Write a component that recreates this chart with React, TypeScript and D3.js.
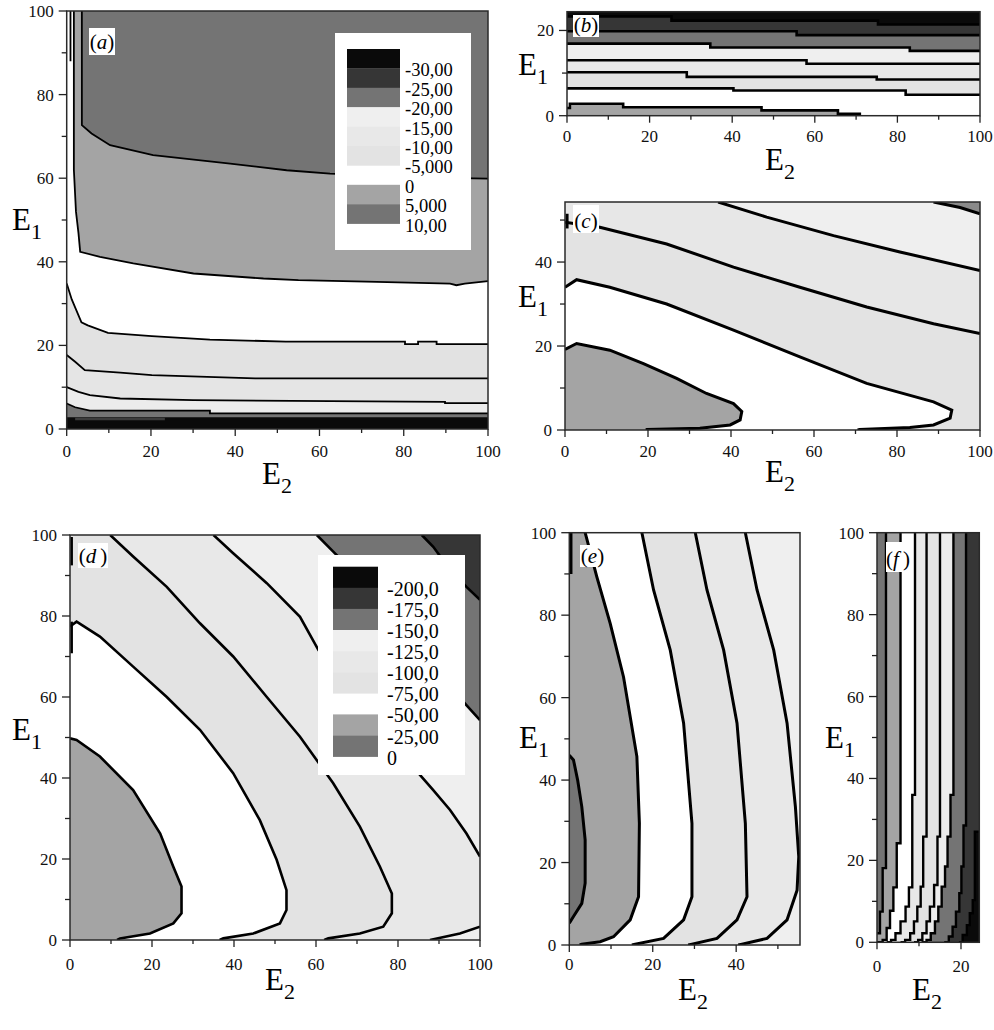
import React from 'react';
import * as d3 from 'd3';

type Pt = [number, number]; // [E2, E1]

// ---------------- ticks & labels ----------------
const ticks0to100 = [0, 10, 20, 30, 40, 50, 60, 70, 80, 90, 100];
const labels0to100 = [0, 20, 40, 60, 80, 100];
const bE1Ticks = [0, 10, 20];
const bE1Labels = [0, 20];
const cE1Ticks = [0, 10, 20, 30, 40, 50];
const cE1Labels = [0, 20, 40];
const eE2Ticks = [0, 10, 20, 30, 40, 50];
const eE2Labels = [0, 20, 40];
const fE2Ticks = [0, 10, 20];
const fE2Labels = [0, 20];

const aLegendLabels = ['-30,00', '-25,00', '-20,00', '-15,00', '-10,00', '-5,000', '0', '5,000', '10,00'];
const dLegendLabels = ['-200,0', '-175,0', '-150,0', '-125,0', '-100,0', '-75,00', '-50,00', '-25,00', '0'];

// ---------------- panel (a) contour boundaries ----------------
const aC60: Pt[] = [[3.6, 100], [3.6, 72.7], [5.9, 70.7], [10.3, 67.9], [20.5, 65.5], [38.8, 63.5], [52.2, 61.9], [62.5, 61.1], [80, 60.4], [90, 60.1], [100, 59.9]];
const aC40: Pt[] = [[1.7, 100], [1.7, 62], [2.2, 52], [2.8, 46.8], [3.2, 42.4], [7.9, 41.2], [15.8, 39.6], [30.1, 37.2], [46.7, 36], [55, 35.6], [73.6, 35.2], [91, 34.8], [92.5, 34.4], [94.5, 34.8], [100, 35.4]];
const aC20: Pt[] = [[0, 34.8], [1.2, 31], [3.5, 25.5], [5, 24.8], [9.8, 23], [20.2, 22.2], [34, 21.4], [52, 20.9], [80.3, 20.9], [80.3, 20.3], [83.4, 20.3], [83.4, 20.9], [87.8, 20.9], [87.8, 20.3], [100, 20.3]];
const aC12: Pt[] = [[0, 17.7], [2, 16.1], [4.3, 14.1], [12.7, 13.5], [20.2, 12.9], [44.7, 12.1], [100, 12.1]];
const aC7: Pt[] = [[0, 10], [2.8, 8.9], [5.5, 8.1], [12.7, 7.3], [30, 6.9], [89.8, 6.5], [89.8, 6.2], [100, 6.2]];
const aC4: Pt[] = [[0, 6.1], [2, 5.2], [5.5, 4.4], [34, 4.4], [34, 3.75], [100, 3.75]];
const aBlack: Pt[] = [[0, 2.8], [100, 2.8], [100, 0], [0, 0]];
const aDarkStrip: Pt[] = [[2, 2.7], [23.3, 2.7], [23.3, 2.1], [2, 2.1]];
const aEdge: Pt[] = [[0.9, 100], [0.9, 88]];

// ---------------- panel (b) (horizontal staircases) ----------------
const bL1: Pt[] = [[0, 23.3], [25.3, 22.3], [75.3, 21.4], [100, 21.4]];
const bL2: Pt[] = [[0, 19.8], [55.6, 18.9], [100, 18.9]];
const bL3: Pt[] = [[0, 16.9], [34.7, 16], [83, 15.2], [100, 15.2]];
const bL4: Pt[] = [[0, 13], [58, 12.2], [100, 12.2]];
const bL5: Pt[] = [[0, 10.2], [29, 9.1], [75, 8.5], [100, 8.5]];
const bL6: Pt[] = [[0, 6.4], [40.3, 5.9], [82, 4.9], [100, 4.9]];
const bL7: Pt[] = [[0, 1.8], [0.7, 2.8], [13.6, 2.0], [47.1, 1.24], [65.6, 0.47], [70.9, 0]];

// ---------------- panel (c) ----------------
const cC1: Pt[] = [[0, 19.2], [2.8, 20.6], [10.8, 19], [18.9, 15.8], [26.9, 12.3], [34.1, 8.7], [40.6, 6.3], [42.6, 4.4], [42.2, 2.4], [39.8, 1.2], [32.5, 0.4], [19.7, 0.1], [19.5, 0]];
const cC2: Pt[] = [[0, 34], [2.8, 35.8], [10.8, 34], [24.5, 30], [40.6, 23.8], [56.6, 17.4], [72.7, 11.1], [88.8, 6.7], [93.2, 4.75], [92.8, 2.8], [88.8, 1.2], [83.1, 0.6], [71, 0.1], [70.5, 0]];
const cC3: Pt[] = [[0, 49.5], [8.4, 48.3], [24.5, 44.3], [40.6, 38.8], [56.6, 34], [72.7, 29.3], [88.8, 25.3], [100, 23]];
const cC4: Pt[] = [[36.9, 54.3], [48.6, 50.7], [64.7, 46.3], [80.7, 42.4], [100, 38]];
const cC5: Pt[] = [[88.8, 54.3], [95.2, 53], [100, 51.5]];
const cEdge: Pt[] = [[0.5, 51.5], [0.5, 48]];

// ---------------- panel (d) ----------------
const dC1: Pt[] = [[0, 49.8], [1.6, 49.4], [7.3, 45.3], [15.4, 37], [22, 26.3], [25.2, 18.1], [27.2, 13.2], [27.2, 6.6], [25.2, 4.1], [19.5, 1.6], [12.2, 0.4], [11.5, 0]];
const dC2: Pt[] = [[0, 77.4], [1.6, 78.6], [7.3, 74.9], [15.4, 67.5], [23.6, 60], [31.7, 51.9], [39.8, 41.2], [46.3, 29.6], [50.4, 19.8], [52.8, 12.3], [52.8, 7.4], [51.2, 4.1], [44.7, 1.6], [37.4, 0.4], [36.5, 0]];
const dC3: Pt[] = [[9.8, 100], [15.4, 94.7], [23.6, 87.2], [31.7, 78.2], [39.8, 70], [48, 60], [56.1, 50.2], [64.2, 38.7], [70.7, 28], [75.6, 18.1], [78.5, 11.5], [78.5, 6.6], [76.4, 3.3], [70.7, 1.6], [63, 0.4], [62, 0]];
const dC4: Pt[] = [[35, 100], [39.8, 95.5], [48, 88.1], [56.1, 79.8], [60.6, 71.6], [66, 64.5], [72, 57.5], [78, 50.2], [85.4, 40.7], [88.6, 37], [92.7, 32.1], [96.7, 26.3], [100, 20.6]];
const dC4b: Pt[] = [[87.8, 0], [95.1, 1.6], [100, 3.3]];
const dC5: Pt[] = [[60.2, 100], [64.2, 95.9], [70, 90], [76, 83.5], [82, 77], [88, 70], [93, 63], [96.3, 58.4], [100, 54.3]];
const dC6: Pt[] = [[85.8, 100], [88.6, 97.1], [92.7, 91.4], [96.7, 87.2], [100, 84]];
const dEdge1: Pt[] = [[0.4, 99.5], [0.4, 92.5]];
const dEdge2: Pt[] = [[0.4, 78.6], [0.4, 70.8]];

// ---------------- panel (e) ----------------
const eL1: Pt[] = [[0, 46], [1, 44.9], [2, 40], [3, 33.5], [3.8, 25.5], [3.8, 15], [3, 10.1], [1, 6.9], [0, 5.3]];
const eL2: Pt[] = [[3.8, 100], [6.6, 89.3], [9.8, 78], [13, 65], [16.2, 45.7], [16.8, 29.5], [16.6, 11.7], [14.6, 6.1], [10.6, 2], [7.4, 0.8], [3, 0.2], [2.5, 0]];
const eL3: Pt[] = [[17.4, 100], [20.2, 86.1], [24.2, 71.5], [27.4, 53.8], [29.4, 29.5], [29.4, 11.7], [27.4, 6.1], [22.6, 1.6], [15.8, 0.2], [15, 0]];
const eL4: Pt[] = [[30.2, 100], [33, 86.1], [37, 71.5], [40.2, 53.8], [42.2, 29.5], [42.6, 11.7], [40.2, 6.1], [35.4, 1.6], [29.4, 0.2], [28.5, 0]];
const eL5: Pt[] = [[42.2, 100], [45, 86.1], [49, 71.5], [52.2, 53.8], [54.2, 33.5], [55, 21.4], [54.6, 13.3], [52.2, 6.1], [47.4, 1.6], [41.4, 0.2], [40.5, 0]];
const eEdge: Pt[] = [[0.4, 100], [0.4, 90]];

// ---------------- panel (f) (vertical staircases) ----------------
const fL1: Pt[] = [[2.14, 100], [1.35, 18.1], [0.71, 7.5], [0.05, 2.2]];
const fL2: Pt[] = [[5.6, 100], [4.7, 24.2], [3.9, 13.4], [3.1, 7.7], [2.3, 3.5], [1.35, 0.6], [0, 0]];
const fL3: Pt[] = [[9.05, 100], [8.4, 36], [7.6, 13.4], [6.8, 8.7], [5.6, 5.1], [4.4, 2.2], [3.35, 0.6], [2.3, 0]];
const fL4: Pt[] = [[11.8, 100], [11.0, 25.8], [10.4, 13.6], [9.6, 8.7], [8.8, 5.1], [7.9, 2.2], [6.7, 0.6], [5.6, 0]];
const fL5: Pt[] = [[15.0, 100], [14.4, 25.8], [13.6, 14], [12.6, 8.7], [11.8, 5.1], [10.8, 2.2], [9.8, 0.6], [8.8, 0]];
const fL6: Pt[] = [[18.2, 100], [17.5, 36], [16.8, 25.8], [16.2, 18.5], [15.4, 13.6], [14.6, 8.7], [13.8, 5.1], [12.8, 2.2], [11.8, 0.6], [10.6, 0]];
const fL7: Pt[] = [[21.2, 100], [20.6, 28.5], [20.1, 18.5], [19.6, 12], [18.8, 7.5], [18.0, 3.8], [17.1, 1.4], [16.0, 0]];
const fL8: Pt[] = [[24.4, 27], [23.3, 27], [22.8, 10.3], [22.1, 7.1], [21.4, 4.2], [20.4, 1.8], [19.5, 0]];

// ---------------- styles ----------------
const C = {
  black: '#0a0a0a', dark: '#363636', mid: '#747474', gray: '#a4a4a4', white: '#ffffff',
  l1: '#efefef', l2: '#e8e8e8', l3: '#e3e3e3',
};
const SERIF = "Liberation Serif, Times New Roman, serif";

const stairH = (p: Pt[]): Pt[] => p.flatMap((d, i) => (i === 0 ? [d] : [[d[0], p[i - 1][1]] as Pt, d]));
const stairV = (p: Pt[]): Pt[] => p.flatMap((d, i) => (i === 0 ? [d] : [[p[i - 1][0], d[1]] as Pt, d]));
const rev = (p: Pt[]): Pt[] => [...p].reverse();

interface Fill { fill: string; poly: Pt[] }
interface Spec {
  id: string;
  left: number; right: number; top: number; bottom: number;
  xEnd: number; yEnd: number;
  base: string;
  fills: Fill[];
  lines: Pt[][];
  lw: number;
  xTicks: number[]; xLabels: number[]; yTicks: number[]; yLabels: number[];
  xLabelDy: number;
  tag: { letter: string; space: boolean; x: number; y: number; w: number; h: number; base: number };
  e1: [number, number]; e2: [number, number];
}

function ELabel({ x, y, sub }: { x: number; y: number; sub: string }) {
  return (
    <text x={x} y={y} fontFamily={SERIF} fontSize={31} fill="#000">
      E<tspan fontSize={22} dy={9}>{sub}</tspan>
    </text>
  );
}

function Panel({ s }: { s: Spec }) {
  const x = d3.scaleLinear().domain([0, s.xEnd]).range([s.left, s.right]);
  const y = d3.scaleLinear().domain([0, s.yEnd]).range([s.bottom, s.top]);
  const line = d3.line<Pt>().x((d) => x(d[0])).y((d) => y(d[1]));
  const basePoly: Pt[] = [[0, 0], [s.xEnd, 0], [s.xEnd, s.yEnd], [0, s.yEnd]];
  return (
    <g>
      <defs>
        <clipPath id={`clip-${s.id}`}>
          <rect x={s.left} y={s.top} width={s.right - s.left} height={s.bottom - s.top} />
        </clipPath>
      </defs>
      <g clipPath={`url(#clip-${s.id})`}>
        <path d={line(basePoly) + 'Z'} fill={s.base} />
        {s.fills.map((f, i) => (
          <path key={i} d={line(f.poly) + 'Z'} fill={f.fill} />
        ))}
        {s.lines.map((l, i) => (
          <path key={i} d={line(l) || ''} fill="none" stroke="#000" strokeWidth={s.lw} strokeLinejoin="miter" />
        ))}
      </g>
      <rect x={s.left} y={s.top} width={s.right - s.left} height={s.bottom - s.top} fill="none" stroke="#2a2a2a" strokeWidth={1.5} />
      {s.xTicks.map((t) => {
        const major = s.xLabels.includes(t);
        return <line key={'xt' + t} x1={x(t)} x2={x(t)} y1={s.bottom} y2={s.bottom + (major ? 7 : 4)} stroke="#222" strokeWidth={1.3} />;
      })}
      {s.yTicks.map((t) => {
        const major = s.yLabels.includes(t);
        return <line key={'yt' + t} x1={s.left - (major ? 8 : 5)} x2={s.left} y1={y(t)} y2={y(t)} stroke="#222" strokeWidth={1.3} />;
      })}
      {s.xLabels.map((t) => (
        <text key={'xl' + t} x={x(t)} y={s.bottom + s.xLabelDy} textAnchor="middle" fontFamily={SERIF} fontSize={17} fill="#111">{t}</text>
      ))}
      {s.yLabels.map((t) => (
        <text key={'yl' + t} x={s.left - 13} y={y(t) + 6} textAnchor="end" fontFamily={SERIF} fontSize={17} fill="#111">{t}</text>
      ))}
      <rect x={s.tag.x} y={s.tag.y} width={s.tag.w} height={s.tag.h} fill="#fff" />
      <text x={s.tag.x + s.tag.w / 2} y={s.tag.base} textAnchor="middle" fontFamily={SERIF} fontSize={21} fill="#000">
        (<tspan fontStyle="italic">{s.tag.letter}</tspan>{s.tag.space ? '\u2009)' : ')'}
      </text>
      <ELabel x={s.e1[0]} y={s.e1[1]} sub="1" />
      <ELabel x={s.e2[0]} y={s.e2[1]} sub="2" />
    </g>
  );
}

function Legend({ bx, by, bw, bh, sx, sw, y0, rowH, colors, labels, lx, fs }: {
  bx: number; by: number; bw: number; bh: number; sx: number; sw: number; y0: number; rowH: number;
  colors: (string | null)[]; labels: string[]; lx: number; fs: number;
}) {
  return (
    <g>
      <rect x={bx} y={by} width={bw} height={bh} fill="#fff" />
      {colors.map((c, i) => (c ? <rect key={i} x={sx} y={y0 + i * rowH} width={sw} height={rowH + 0.3} fill={c} /> : null))}
      {labels.map((l, i) => (
        <text key={l + i} x={lx} y={y0 + (i + 1) * rowH + 8} fontFamily={SERIF} fontSize={fs} fill="#000">{l}</text>
      ))}
    </g>
  );
}

const legendColors: (string | null)[] = [C.black, C.dark, C.mid, C.l1, C.l2, C.l3, null, C.gray, C.mid];

export default function App() {
  const leftClose: Pt[] = [[0, 0], [0, 100]];
  const specs: Spec[] = [
    {
      id: 'a', left: 66.7, right: 488, top: 11, bottom: 429, xEnd: 100, yEnd: 100, base: C.mid,
      fills: [
        { fill: C.gray, poly: [...aC60, [100, 0], [0, 0], [0, 100]] },
        { fill: C.white, poly: [...aC40, [100, 0], [0, 0], [0, 100]] },
        { fill: '#e2e2e2', poly: [...aC20, [100, 0], [0, 0]] },
        { fill: '#e5e5e5', poly: [...aC12, [100, 0], [0, 0]] },
        { fill: '#ececec', poly: [...aC7, [100, 0], [0, 0]] },
        { fill: C.mid, poly: [...aC4, [100, 0], [0, 0]] },
        { fill: C.black, poly: aBlack },
        { fill: '#3c3c3c', poly: aDarkStrip },
      ],
      lines: [aC60, aC40, aC20, aC12, aC7, aC4, aEdge], lw: 1.8,
      xTicks: ticks0to100, xLabels: labels0to100, yTicks: ticks0to100, yLabels: labels0to100, xLabelDy: 28,
      tag: { letter: 'a', space: false, x: 89, y: 28, w: 26, h: 27, base: 49 },
      e1: [12, 230], e2: [262, 484],
    },
    {
      id: 'b', left: 567, right: 980, top: 11.7, bottom: 115.7, xEnd: 100, yEnd: 24.4, base: C.black,
      fills: [
        { fill: C.dark, poly: [...stairH(bL1), [100, 0], [0, 0]] },
        { fill: C.mid, poly: [...stairH(bL2), [100, 0], [0, 0]] },
        { fill: C.l1, poly: [...stairH(bL3), [100, 0], [0, 0]] },
        { fill: C.l2, poly: [...stairH(bL4), [100, 0], [0, 0]] },
        { fill: C.l3, poly: [...stairH(bL5), [100, 0], [0, 0]] },
        { fill: C.white, poly: [...stairH(bL6), [100, 0], [0, 0]] },
        { fill: C.gray, poly: [...stairH(bL7), [0, 0]] },
      ],
      lines: [bL1, bL2, bL3, bL4, bL5, bL6, bL7].map(stairH), lw: 2.6,
      xTicks: ticks0to100, xLabels: labels0to100, yTicks: bE1Ticks, yLabels: bE1Labels, xLabelDy: 26,
      tag: { letter: 'b', space: false, x: 573, y: 15, w: 26, h: 22, base: 32 },
      e1: [518, 75], e2: [765, 170],
    },
    {
      id: 'c', left: 565, right: 980, top: 202, bottom: 430, xEnd: 100, yEnd: 54.3, base: C.l1,
      fills: [
        { fill: '#e7e7e7', poly: [...cC4, [100, 0], [0, 0], [0, 54.3]] },
        { fill: C.l3, poly: [...cC3, [100, 0], [0, 0]] },
        { fill: C.white, poly: [...cC2, [0, 0]] },
        { fill: C.gray, poly: [...cC1, [0, 0]] },
        { fill: '#8a8a8a', poly: [...cC5, [100, 54.3]] },
      ],
      lines: [cC1, cC2, cC3, cC4, cC5, cEdge], lw: 3,
      xTicks: ticks0to100, xLabels: labels0to100, yTicks: cE1Ticks, yLabels: cE1Labels, xLabelDy: 27,
      tag: { letter: 'c', space: false, x: 573, y: 205, w: 26, h: 28, base: 228 },
      e1: [518, 307], e2: [765, 482],
    },
    {
      id: 'd', left: 70, right: 480, top: 535, bottom: 940, xEnd: 100, yEnd: 100, base: C.dark,
      fills: [
        { fill: C.mid, poly: [...dC6, [100, 0], [0, 0], [0, 100]] },
        { fill: C.l1, poly: [...dC5, [100, 0], [0, 0], [0, 100]] },
        { fill: C.l2, poly: [...dC4, ...rev(dC4b), ...leftClose] },
        { fill: C.l3, poly: [...dC3, ...leftClose] },
        { fill: C.white, poly: [...dC2, [0, 0]] },
        { fill: C.gray, poly: [...dC1, [0, 0]] },
      ],
      lines: [dC1, dC2, dC3, dC4, dC4b, dC5, dC6, dEdge1, dEdge2], lw: 2.6,
      xTicks: ticks0to100, xLabels: labels0to100, yTicks: ticks0to100, yLabels: labels0to100, xLabelDy: 30,
      tag: { letter: 'd', space: true, x: 78, y: 543, w: 30, h: 25, base: 563 },
      e1: [12, 740], e2: [265, 990],
    },
    {
      id: 'e', left: 569.3, right: 800, top: 532.7, bottom: 945, xEnd: 55.3, yEnd: 100, base: C.l1,
      fills: [
        { fill: C.l2, poly: [...eL5, ...leftClose] },
        { fill: C.l3, poly: [...eL4, ...leftClose] },
        { fill: C.white, poly: [...eL3, ...leftClose] },
        { fill: C.gray, poly: [...eL2, ...leftClose] },
        { fill: C.mid, poly: eL1 },
      ],
      lines: [eL1, eL2, eL3, eL4, eL5, eEdge], lw: 3,
      xTicks: eE2Ticks, xLabels: eE2Labels, yTicks: ticks0to100, yLabels: labels0to100, xLabelDy: 25,
      tag: { letter: 'e', space: false, x: 580, y: 545, w: 25, h: 22, base: 563 },
      e1: [519, 748], e2: [678, 1000],
    },
    {
      id: 'f', left: 877, right: 979.3, top: 532.7, bottom: 942.3, xEnd: 24.36, yEnd: 100, base: C.dark,
      fills: [
        { fill: C.mid, poly: [...stairV(fL7), ...leftClose] },
        { fill: '#ececec', poly: [...stairV(fL6), ...leftClose] },
        { fill: C.l3, poly: [...stairV(fL5), ...leftClose] },
        { fill: C.l2, poly: [...stairV(fL4), ...leftClose] },
        { fill: C.white, poly: [...stairV(fL3), ...leftClose] },
        { fill: C.gray, poly: [...stairV(fL2), ...leftClose] },
        { fill: C.mid, poly: [...stairV(fL1), [0, 2.2], [0, 100]] },
        { fill: C.black, poly: [...stairV(fL8), [24.36, 0]] },
      ],
      lines: [fL1, fL2, fL3, fL4, fL5, fL6, fL7, fL8].map(stairV), lw: 2.4,
      xTicks: fE2Ticks, xLabels: fE2Labels, yTicks: ticks0to100, yLabels: labels0to100, xLabelDy: 30,
      tag: { letter: 'f', space: true, x: 886, y: 542, w: 24, h: 30, base: 566 },
      e1: [825, 748], e2: [912, 1000],
    },
  ];

  return (
    <svg width={994} height={1030} style={{ position: 'absolute', left: 0, top: 0, background: '#fff' }}>
      <rect x={0} y={0} width={994} height={1030} fill="#fff" />
      {specs.map((s) => (
        <Panel key={s.id} s={s} />
      ))}
      <Legend bx={335} by={33} bw={136} bh={217} sx={347} sw={53} y0={49} rowH={19.4} colors={legendColors} labels={aLegendLabels} lx={405} fs={18.5} />
      <Legend bx={318} by={555} bw={147} bh={220} sx={333} sw={45} y0={566.7} rowH={21.1} colors={legendColors} labels={dLegendLabels} lx={387} fs={20} />
    </svg>
  );
}
